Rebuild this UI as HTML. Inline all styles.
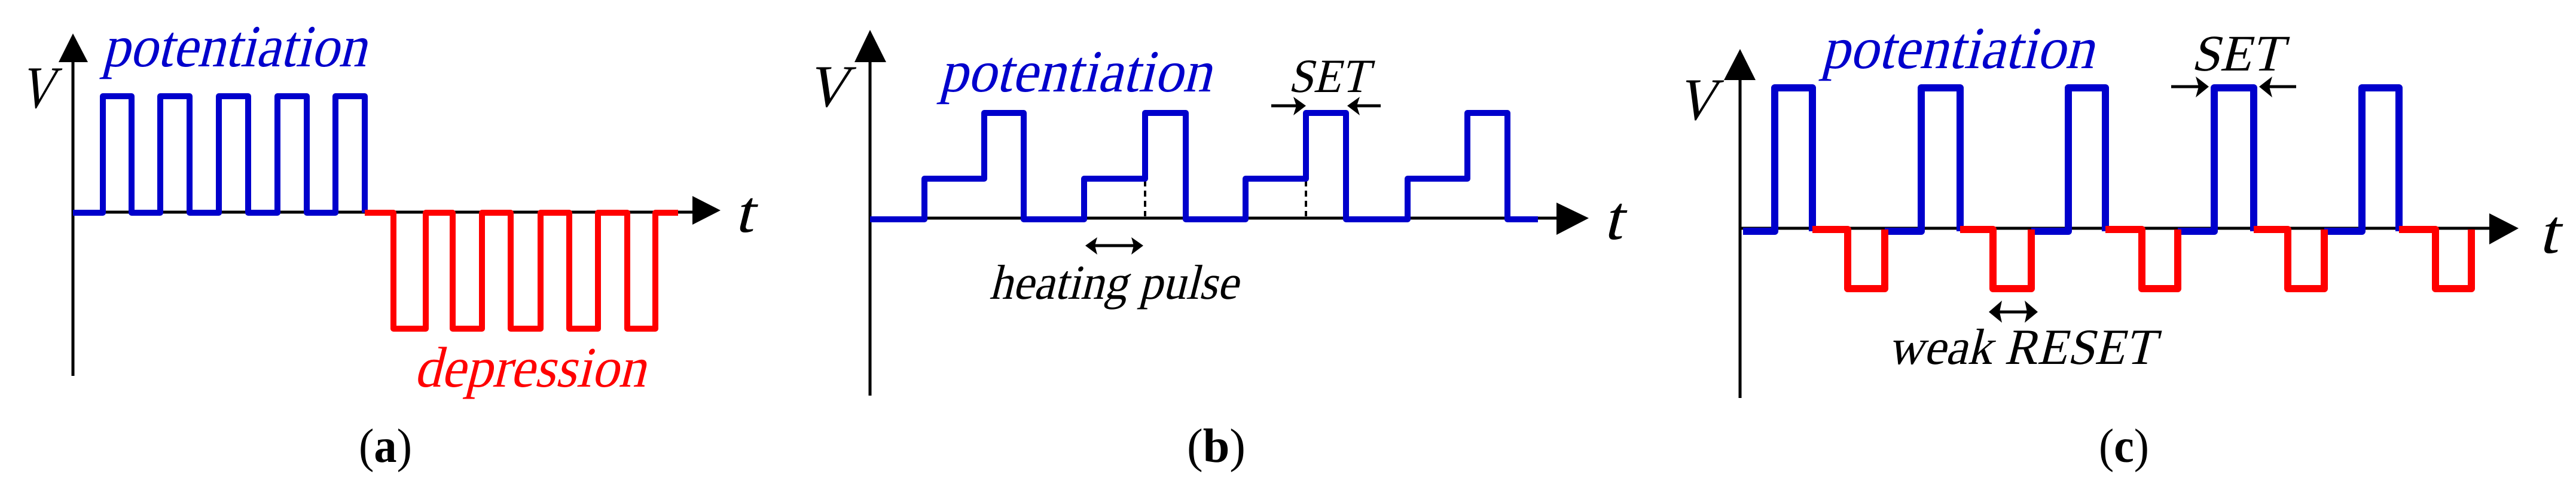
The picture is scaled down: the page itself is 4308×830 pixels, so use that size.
<!DOCTYPE html>
<html><head><meta charset="utf-8"><style>
html,body{margin:0;padding:0;background:#fff;}
svg{display:block;}
</style></head><body>
<svg width="4308" height="830" viewBox="0 0 4308 830" xmlns="http://www.w3.org/2000/svg" font-family="'Liberation Serif', 'DejaVu Serif', serif">
<g stroke="#000" stroke-width="5" fill="none">
<line x1="122" y1="100" x2="122" y2="629"/>
<line x1="122" y1="355" x2="1162" y2="355"/>
<line x1="1455" y1="100" x2="1455" y2="662"/>
<line x1="1455" y1="365" x2="2606" y2="365"/>
<line x1="2910" y1="130" x2="2910" y2="666"/>
<line x1="2910" y1="382" x2="4166" y2="382"/>
<line x1="1915" y1="302" x2="1915" y2="362" stroke-width="4" stroke-dasharray="10,7"/>
<line x1="2184" y1="302" x2="2184" y2="362" stroke-width="4" stroke-dasharray="10,7"/>
</g>
<g fill="#000">
<polygon points="122,56 98,104 147,104"/>
<polygon points="1205,352 1158,328 1158,376"/>
<polygon points="1455,50 1429,104 1482,104"/>
<polygon points="2657,365 2603,339 2603,393"/>
<polygon points="2910,82 2883,134 2936,134"/>
<polygon points="4212,382 4163,357 4163,409"/>
</g>
<path d="M122,356 H172 V161 H220 V356 H268 V161 H317 V356 H366 V161 H415 V356 H464 V161 H513 V356 H561 V161 H610 V356" stroke="#0000cc" stroke-width="10" fill="none" stroke-linejoin="round"/>
<path d="M610,356 H658 V550 H712 V356 H757 V550 H806 V356 H854 V550 H904 V356 H952 V550 H1000 V356 H1049 V550 H1096 V356 H1134" stroke="#ff0000" stroke-width="10" fill="none" stroke-linejoin="round"/>
<path d="M1455,367 H1546 V299 H1646 V189 H1712 V367 H1813 V299 H1915 V189 H1983 V367 H2083 V299 H2184 V189 H2251 V367 H2354 V299 H2454 V189 H2521 V367 H2572" stroke="#0000cc" stroke-width="10" fill="none" stroke-linejoin="round"/>
<path d="M2915,387 H2968 V147 H3031 V387 M3152,387 H3213 V147 H3278 V387 M3397,387 H3459 V147 H3521 V387 M3642,387 H3703 V147 H3769 V387 M3887,387 H3950 V147 H4012 V387" stroke="#0000cc" stroke-width="12" fill="none" stroke-linejoin="round"/>
<path d="M3031,384 H3090 V483 H3152 V384 M3278,384 H3333 V483 H3397 V384 M3521,384 H3582 V483 H3642 V384 M3769,384 H3826 V483 H3887 V384 M4012,384 H4073 V483 H4133 V384" stroke="#ff0000" stroke-width="12" fill="none" stroke-linejoin="round"/>
<g stroke="#000" stroke-width="5" fill="#000">
<line x1="2126" y1="177" x2="2170" y2="177"/>
<polygon points="2184,177 2163,162 2168,177 2163,193" stroke="none"/>
<line x1="2309" y1="177" x2="2266" y2="177"/>
<polygon points="2253,177 2274,162 2269,177 2274,193" stroke="none"/>
<line x1="1825" y1="411" x2="1902" y2="411"/>
<polygon points="1815,411 1835,397 1831,411 1835,426" stroke="none"/>
<polygon points="1912,411 1892,397 1896,411 1892,426" stroke="none"/>
<line x1="3631" y1="145" x2="3680" y2="145"/>
<polygon points="3694,145 3672,128 3677,145 3672,163" stroke="none"/>
<line x1="3840" y1="145" x2="3792" y2="145"/>
<polygon points="3778,145 3800,128 3795,145 3800,163" stroke="none"/>
<line x1="3336" y1="522" x2="3398" y2="522"/>
<polygon points="3326,522 3348,503 3344,522 3348,540" stroke="none"/>
<polygon points="3408,522 3386,503 3390,522 3386,540" stroke="none"/>
</g>
<g font-family="'Liberation Serif', 'DejaVu Serif', serif">
<g transform="translate(31,180) skewX(-14)"><text font-size="100" textLength="58" lengthAdjust="spacingAndGlyphs">V</text></g>
<g transform="translate(170,111) skewX(-14)"><text font-size="100" fill="#0000cc" textLength="442" lengthAdjust="spacingAndGlyphs">potentiation</text></g>
<g transform="translate(1228,388) skewX(-14)"><text font-size="100" textLength="31" lengthAdjust="spacingAndGlyphs">t</text></g>
<g transform="translate(692,647) skewX(-14)"><text font-size="96" fill="#ff0000" textLength="387" lengthAdjust="spacingAndGlyphs">depression</text></g>
<g transform="translate(1348,178) skewX(-14)"><text font-size="100" textLength="69" lengthAdjust="spacingAndGlyphs">V</text></g>
<g transform="translate(1570,153) skewX(-14)"><text font-size="100" fill="#0000cc" textLength="455" lengthAdjust="spacingAndGlyphs">potentiation</text></g>
<g transform="translate(2154,154) skewX(-14)"><text font-size="80" textLength="134" lengthAdjust="spacingAndGlyphs">SET</text></g>
<g transform="translate(1654,500) skewX(-14)"><text font-size="82" textLength="416" lengthAdjust="spacingAndGlyphs">heating pulse</text></g>
<g transform="translate(2681,400) skewX(-14)"><text font-size="105" textLength="31" lengthAdjust="spacingAndGlyphs">t</text></g>
<g transform="translate(2803,200) skewX(-14)"><text font-size="100" textLength="65" lengthAdjust="spacingAndGlyphs">V</text></g>
<g transform="translate(3045,114) skewX(-14)"><text font-size="100" fill="#0000cc" textLength="456" lengthAdjust="spacingAndGlyphs">potentiation</text></g>
<g transform="translate(3664,118) skewX(-14)"><text font-size="86" textLength="153" lengthAdjust="spacingAndGlyphs">SET</text></g>
<g transform="translate(3157,609) skewX(-14)"><text font-size="85" textLength="446" lengthAdjust="spacingAndGlyphs">weak RESET</text></g>
<g transform="translate(4245,423) skewX(-14)"><text font-size="105" textLength="32" lengthAdjust="spacingAndGlyphs">t</text></g>
<text x="600" y="773" font-size="80" textLength="89" lengthAdjust="spacingAndGlyphs">(<tspan font-weight="bold">a</tspan>)</text>
<text x="1985" y="773" font-size="80" textLength="98" lengthAdjust="spacingAndGlyphs">(<tspan font-weight="bold">b</tspan>)</text>
<text x="3510" y="773" font-size="80" textLength="84" lengthAdjust="spacingAndGlyphs">(<tspan font-weight="bold">c</tspan>)</text>
</g>
</svg>
</body></html>
